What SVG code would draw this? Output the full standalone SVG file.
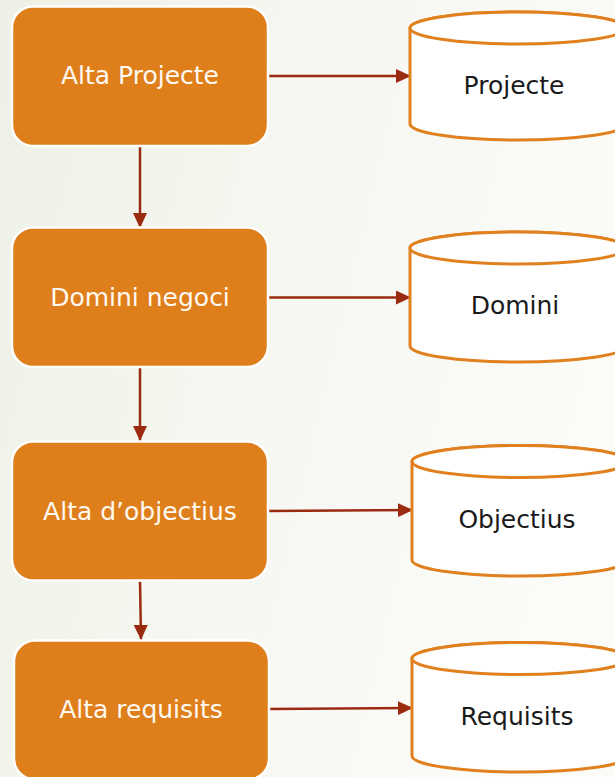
<svg xmlns="http://www.w3.org/2000/svg" width="615" height="777" viewBox="0 0 615 777">
<defs>
<linearGradient id="bg" x1="0" y1="0" x2="1" y2="0.3">
<stop offset="0" stop-color="#EDF1E5"/>
<stop offset="0.5" stop-color="#F6F7F1"/>
<stop offset="1" stop-color="#FBFBF8"/>
</linearGradient>
<marker id="ah" markerWidth="16" markerHeight="14" refX="15" refY="7" orient="auto" markerUnits="userSpaceOnUse">
<path d="M0,0 L15,7 L0,14 Z" fill="#9A2B11"/>
</marker>
<style>
.box{fill:#DE7F1B;stroke:#FFFFFF;stroke-width:2.5}
.btxt{font-family:"DejaVu Sans",sans-serif;font-size:25px;fill:#FFF9F2;text-anchor:middle}
.cyl{fill:#FFFFFF;stroke:#E0801F;stroke-width:3}
.ctxt{font-family:"DejaVu Sans",sans-serif;font-size:25px;fill:#1A1A1A;text-anchor:middle}
.con{stroke:#9A2B11;stroke-width:2.5;fill:none;marker-end:url(#ah)}
</style>
</defs>
<rect width="615" height="777" fill="url(#bg)"/>
<g id="connectors">
<line class="con" x1="268" y1="76" x2="411" y2="76"/>
<line class="con" x1="268" y1="297.5" x2="411" y2="297.5"/>
<line class="con" x1="268" y1="511" x2="413" y2="510"/>
<line class="con" x1="268" y1="709" x2="413" y2="708"/>
<line class="con" x1="140" y1="146" x2="140" y2="228"/>
<line class="con" x1="140" y1="367" x2="140" y2="441"/>
<line class="con" x1="140" y1="580" x2="141" y2="640"/>
</g>
<g id="alta-projecte">
<rect class="box" x="12" y="6.5" width="256" height="139.5" rx="21"/>
<text class="btxt" x="140" y="84">Alta Projecte</text>
</g>
<g id="domini-negoci">
<rect class="box" x="12" y="227.5" width="256" height="139.5" rx="21"/>
<text class="btxt" x="140" y="306">Domini negoci</text>
</g>
<g id="alta-objectius">
<rect class="box" x="12" y="441.5" width="256" height="139" rx="21"/>
<text class="btxt" x="140" y="520">Alta d’objectius</text>
</g>
<g id="alta-requisits">
<rect class="box" x="14" y="640.5" width="255" height="139" rx="21"/>
<text class="btxt" x="141" y="718">Alta requisits</text>
</g>
<g id="projecte">
<path class="cyl" d="M410,28 L410,124 A108,16 0 0 0 626,124 L626,28 A108,16 0 0 0 410,28 Z"/>
<ellipse class="cyl" cx="518" cy="28" rx="108" ry="16"/>
<text class="ctxt" x="514" y="94">Projecte</text>
</g>
<g id="domini">
<path class="cyl" d="M410,248 L410,346 A108,16 0 0 0 626,346 L626,248 A108,16 0 0 0 410,248 Z"/>
<ellipse class="cyl" cx="518" cy="248" rx="108" ry="16"/>
<text class="ctxt" x="515" y="314">Domini</text>
</g>
<g id="objectius">
<path class="cyl" d="M412,461.5 L412,560 A108,16 0 0 0 628,560 L628,461.5 A108,16 0 0 0 412,461.5 Z"/>
<ellipse class="cyl" cx="520" cy="461.5" rx="108" ry="16"/>
<text class="ctxt" x="517" y="528">Objectius</text>
</g>
<g id="requisits">
<path class="cyl" d="M412,658.5 L412,756 A108,16 0 0 0 628,756 L628,658.5 A108,16 0 0 0 412,658.5 Z"/>
<ellipse class="cyl" cx="520" cy="658.5" rx="108" ry="16"/>
<text class="ctxt" x="517" y="725">Requisits</text>
</g>
</svg>
